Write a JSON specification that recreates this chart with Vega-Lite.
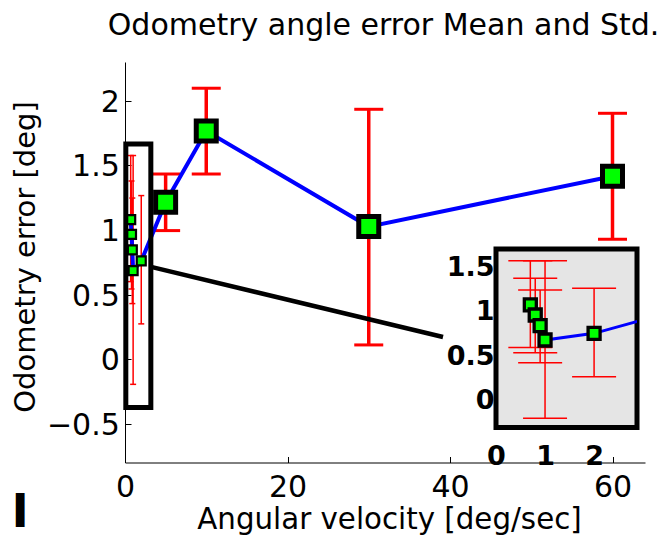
{
  "$schema": "https://vega.github.io/schema/vega-lite/v6.json",
  "autosize": "none",
  "padding": {"left": 125, "top": 62, "right": 539, "bottom": 482},
  "bounds": "flush",
  "spacing": 0,
  "datasets": {
    "pts": [
      {"v": 0.7, "m": 1.08, "lo": 0.6, "hi": 1.576},
      {"v": 0.8, "m": 0.966, "lo": 0.543, "hi": 1.379},
      {"v": 0.9, "m": 0.846, "lo": 0.43, "hi": 1.247},
      {"v": 1.0, "m": 0.685, "lo": -0.195, "hi": 1.576},
      {"v": 2.0, "m": 0.76, "lo": 0.273, "hi": 1.266},
      {"v": 5, "m": 1.215, "lo": 0.995, "hi": 1.433},
      {"v": 10, "m": 1.766, "lo": 1.433, "hi": 2.097},
      {"v": 30, "m": 1.026, "lo": 0.11, "hi": 1.934},
      {"v": 60, "m": 1.416, "lo": 0.928, "hi": 1.903}
    ]
  },
  "hconcat": [
    {
      "width": 370.7,
      "height": 400.5,
      "title": {
        "text": "Odometry angle error Mean and Std.",
        "font": "DejaVu Sans",
        "fontSize": 30,
        "fontWeight": "normal",
        "color": "#000",
        "anchor": "middle",
        "frame": "group",
        "baseline": "alphabetic",
        "offset": 26.5,
        "dx": 73.2,
        "dy": 29.5
      },
      "layer": [
        {
          "data": {"name": "pts"},
          "transform": [{"filter": "datum.v < 3"}],
          "mark": {"type": "rule", "color": "#ff0000", "strokeWidth": 1.5},
          "encoding": {
            "x": {"field": "v", "type": "quantitative",
              "scale": {"domain": [0, 64], "range": [0, 520], "nice": false, "zero": false},
              "axis": {"values": [0, 20, 40, 60], "format": "d", "grid": false,
                "domainColor": "#000", "domainWidth": 1, "tickColor": "#000", "tickWidth": 1, "tickSize": -6,
                "labelFont": "DejaVu Sans", "labelFontSize": 30, "labelColor": "#000", "labelPadding": 16.2,
                "labelFlush": false, "labelOverlap": false,
                "title": "Angular velocity [deg/sec]", "titleFont": "DejaVu Sans", "titleFontSize": 29.3,
                "titleFontWeight": "normal", "titleColor": "#000", "titleBaseline": "alphabetic",
                "titleAlign": "center", "titleX": 264, "titleY": 65.8}},
            "y": {"field": "lo", "type": "quantitative",
              "scale": {"domain": [-0.8, 2.3], "nice": false, "zero": false},
              "axis": {"values": [-0.5, 0, 0.5, 1, 1.5, 2], "format": "~g", "grid": false,
                "domainColor": "#000", "domainWidth": 1, "tickColor": "#000", "tickWidth": 1, "tickSize": -6,
                "labelFont": "DejaVu Sans", "labelFontSize": 30, "labelColor": "#000", "labelPadding": 11.7,
                "labelOffset": 1.5, "labelFlush": false, "labelOverlap": false,
                "title": "Odometry error [deg]", "titleFont": "DejaVu Sans", "titleFontSize": 29,
                "titleFontWeight": "normal", "titleColor": "#000", "titleBaseline": "alphabetic",
                "titleAngle": 270, "titleAlign": "center", "titleX": -90.5, "titleY": 194.5}},
            "y2": {"field": "hi"}
          }
        },
        {
          "data": {"name": "pts"},
          "transform": [{"filter": "datum.v < 3"}],
          "mark": {"type": "tick", "orient": "horizontal", "size": 6, "thickness": 1.5, "color": "#ff0000", "opacity": 1},
          "encoding": {
            "x": {"field": "v", "type": "quantitative", "scale": {"domain": [0, 64], "range": [0, 520], "nice": false, "zero": false}},
            "y": {"field": "lo", "type": "quantitative", "scale": {"domain": [-0.8, 2.3], "nice": false, "zero": false}}
          }
        },
        {
          "data": {"name": "pts"},
          "transform": [{"filter": "datum.v < 3"}],
          "mark": {"type": "tick", "orient": "horizontal", "size": 6, "thickness": 1.5, "color": "#ff0000", "opacity": 1},
          "encoding": {
            "x": {"field": "v", "type": "quantitative", "scale": {"domain": [0, 64], "range": [0, 520], "nice": false, "zero": false}},
            "y": {"field": "hi", "type": "quantitative", "scale": {"domain": [-0.8, 2.3], "nice": false, "zero": false}}
          }
        },
        {
          "data": {"name": "pts"},
          "transform": [{"filter": "datum.v >= 3"}],
          "mark": {"type": "rule", "color": "#ff0000", "strokeWidth": 3.5},
          "encoding": {
            "x": {"field": "v", "type": "quantitative", "scale": {"domain": [0, 64], "range": [0, 520], "nice": false, "zero": false}},
            "y": {"field": "lo", "type": "quantitative", "scale": {"domain": [-0.8, 2.3], "nice": false, "zero": false}},
            "y2": {"field": "hi"}
          }
        },
        {
          "data": {"name": "pts"},
          "transform": [{"filter": "datum.v >= 3"}],
          "mark": {"type": "tick", "orient": "horizontal", "size": 29, "thickness": 3, "color": "#ff0000", "opacity": 1},
          "encoding": {
            "x": {"field": "v", "type": "quantitative", "scale": {"domain": [0, 64], "range": [0, 520], "nice": false, "zero": false}},
            "y": {"field": "lo", "type": "quantitative", "scale": {"domain": [-0.8, 2.3], "nice": false, "zero": false}}
          }
        },
        {
          "data": {"name": "pts"},
          "transform": [{"filter": "datum.v >= 3"}],
          "mark": {"type": "tick", "orient": "horizontal", "size": 29, "thickness": 3, "color": "#ff0000", "opacity": 1},
          "encoding": {
            "x": {"field": "v", "type": "quantitative", "scale": {"domain": [0, 64], "range": [0, 520], "nice": false, "zero": false}},
            "y": {"field": "hi", "type": "quantitative", "scale": {"domain": [-0.8, 2.3], "nice": false, "zero": false}}
          }
        },
        {
          "data": {"name": "pts"},
          "mark": {"type": "line", "color": "#0000ff", "strokeWidth": 4},
          "encoding": {
            "x": {"field": "v", "type": "quantitative", "scale": {"domain": [0, 64], "range": [0, 520], "nice": false, "zero": false}},
            "y": {"field": "m", "type": "quantitative", "scale": {"domain": [-0.8, 2.3], "nice": false, "zero": false}}
          }
        },
        {
          "data": {"name": "pts"},
          "transform": [{"filter": "datum.v < 3"}],
          "mark": {"type": "square", "size": 81, "fill": "#00ff00", "stroke": "#000", "strokeWidth": 2.2, "opacity": 1, "fillOpacity": 1},
          "encoding": {
            "x": {"field": "v", "type": "quantitative", "scale": {"domain": [0, 64], "range": [0, 520], "nice": false, "zero": false}},
            "y": {"field": "m", "type": "quantitative", "scale": {"domain": [-0.8, 2.3], "nice": false, "zero": false}}
          }
        },
        {
          "data": {"name": "pts"},
          "transform": [{"filter": "datum.v >= 3"}],
          "mark": {"type": "square", "size": 400, "fill": "#00ff00", "stroke": "#000", "strokeWidth": 5, "opacity": 1, "fillOpacity": 1},
          "encoding": {
            "x": {"field": "v", "type": "quantitative", "scale": {"domain": [0, 64], "range": [0, 520], "nice": false, "zero": false}},
            "y": {"field": "m", "type": "quantitative", "scale": {"domain": [-0.8, 2.3], "nice": false, "zero": false}}
          }
        },
        {
          "data": {"values": [{"v": 0.1, "v2": 3.18, "m": -0.374, "m2": 1.665}]},
          "mark": {"type": "rect", "filled": false, "stroke": "#000", "strokeWidth": 5},
          "encoding": {
            "x": {"field": "v", "type": "quantitative", "scale": {"domain": [0, 64], "range": [0, 520], "nice": false, "zero": false}},
            "x2": {"field": "v2"},
            "y": {"field": "m", "type": "quantitative", "scale": {"domain": [-0.8, 2.3], "nice": false, "zero": false}},
            "y2": {"field": "m2"}
          }
        },
        {
          "data": {"values": [{"v": 3.08, "v2": 39.14, "m": 0.716, "m2": 0.171}]},
          "mark": {"type": "rule", "color": "#000", "strokeWidth": 4.5},
          "encoding": {
            "x": {"field": "v", "type": "quantitative", "scale": {"domain": [0, 64], "range": [0, 520], "nice": false, "zero": false}},
            "x2": {"field": "v2"},
            "y": {"field": "m", "type": "quantitative", "scale": {"domain": [-0.8, 2.3], "nice": false, "zero": false}},
            "y2": {"field": "m2"}
          }
        },
        {
          "data": {"values": [{"v": -13.98, "m": -1.2965, "label": "I"}]},
          "mark": {"type": "text", "font": "DejaVu Sans", "fontWeight": "bold", "fontSize": 46.6, "align": "left", "baseline": "alphabetic", "color": "#000"},
          "encoding": {
            "x": {"field": "v", "type": "quantitative", "scale": {"domain": [0, 64], "range": [0, 520], "nice": false, "zero": false}},
            "y": {"field": "m", "type": "quantitative", "scale": {"domain": [-0.8, 2.3], "nice": false, "zero": false}},
            "text": {"field": "label"}
          }
        }
      ]
    },
    {
      "width": 141,
      "height": 365.5,
      "layer": [
        {
          "data": {"values": [{"v": 0, "v2": 2.875, "m": -0.298, "m2": 1.708}]},
          "mark": {"type": "rect", "fill": "#e5e5e5", "stroke": "#000", "strokeWidth": 5},
          "encoding": {
            "x": {"field": "v", "type": "quantitative",
              "scale": {"domain": [0, 2.875], "nice": false, "zero": false},
              "axis": {"orient": "bottom", "values": [0, 1, 2], "format": "d", "domain": false, "ticks": false, "tickSize": 0,
                "grid": false, "labelFont": "DejaVu Sans", "labelFontWeight": "bold", "labelFontSize": 27,
                "labelColor": "#000", "labelPadding": 16, "labelFlush": false, "labelOverlap": false, "title": null}},
            "x2": {"field": "v2"},
            "y": {"field": "m", "type": "quantitative",
              "scale": {"domain": [-0.298, 3.809], "nice": false, "zero": false},
              "axis": {"orient": "left", "values": [0, 0.5, 1, 1.5], "format": "~g", "domain": false, "ticks": false, "tickSize": 0,
                "grid": false, "labelFont": "DejaVu Sans", "labelFontWeight": "bold", "labelFontSize": 27,
                "labelColor": "#000", "labelPadding": 2, "labelFlush": false, "labelOverlap": false, "title": null}},
            "y2": {"field": "m2"}
          }
        },
        {
          "data": {"name": "pts"},
          "transform": [{"filter": "datum.v < 3"}],
          "mark": {"type": "rule", "color": "#ff0000", "strokeWidth": 1.5},
          "encoding": {
            "x": {"field": "v", "type": "quantitative", "scale": {"domain": [0, 2.875], "nice": false, "zero": false}},
            "y": {"field": "lo", "type": "quantitative", "scale": {"domain": [-0.298, 3.809], "nice": false, "zero": false}},
            "y2": {"field": "hi"}
          }
        },
        {
          "data": {"name": "pts"},
          "transform": [{"filter": "datum.v < 3"}],
          "mark": {"type": "tick", "orient": "horizontal", "size": 44, "thickness": 1.5, "color": "#ff0000", "opacity": 1},
          "encoding": {
            "x": {"field": "v", "type": "quantitative", "scale": {"domain": [0, 2.875], "nice": false, "zero": false}},
            "y": {"field": "lo", "type": "quantitative", "scale": {"domain": [-0.298, 3.809], "nice": false, "zero": false}}
          }
        },
        {
          "data": {"name": "pts"},
          "transform": [{"filter": "datum.v < 3"}],
          "mark": {"type": "tick", "orient": "horizontal", "size": 44, "thickness": 1.5, "color": "#ff0000", "opacity": 1},
          "encoding": {
            "x": {"field": "v", "type": "quantitative", "scale": {"domain": [0, 2.875], "nice": false, "zero": false}},
            "y": {"field": "hi", "type": "quantitative", "scale": {"domain": [-0.298, 3.809], "nice": false, "zero": false}}
          }
        },
        {
          "data": {"name": "pts"},
          "mark": {"type": "line", "color": "#0000ff", "strokeWidth": 3, "clip": true},
          "encoding": {
            "x": {"field": "v", "type": "quantitative", "scale": {"domain": [0, 2.875], "nice": false, "zero": false}},
            "y": {"field": "m", "type": "quantitative", "scale": {"domain": [-0.298, 3.809], "nice": false, "zero": false}}
          }
        },
        {
          "data": {"name": "pts"},
          "transform": [{"filter": "datum.v < 3"}],
          "mark": {"type": "square", "size": 144, "fill": "#00ff00", "stroke": "#000", "strokeWidth": 3.3, "opacity": 1, "fillOpacity": 1},
          "encoding": {
            "x": {"field": "v", "type": "quantitative", "scale": {"domain": [0, 2.875], "nice": false, "zero": false}},
            "y": {"field": "m", "type": "quantitative", "scale": {"domain": [-0.298, 3.809], "nice": false, "zero": false}}
          }
        }
      ]
    }
  ],
  "config": {
    "view": {"stroke": null},
    "font": "DejaVu Sans"
  }
}
